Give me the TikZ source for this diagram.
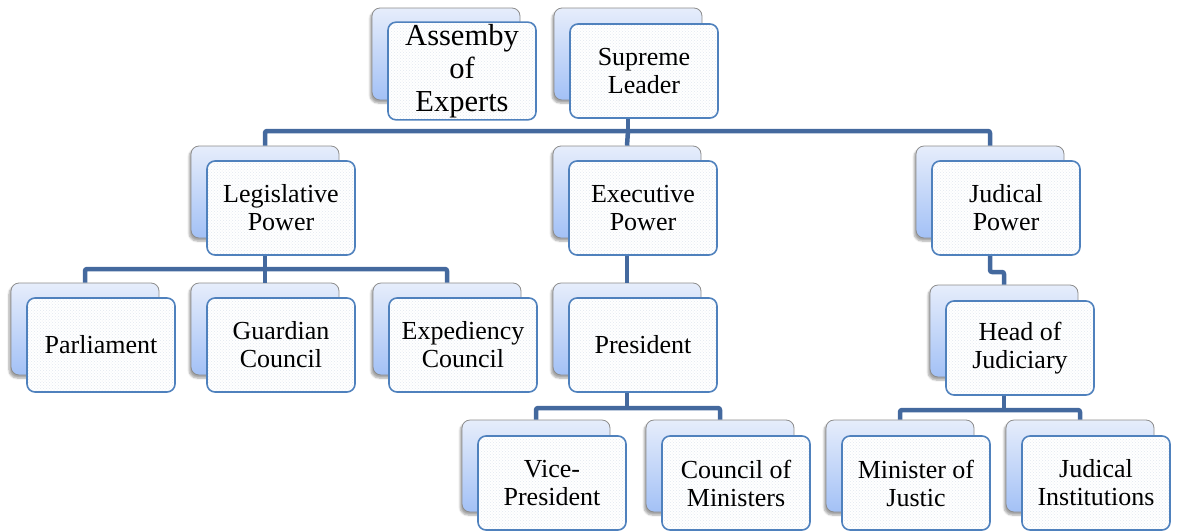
\documentclass[tikz,border=0pt]{standalone}
\usepackage{fontspec}
\setmainfont{Liberation Serif}
\usetikzlibrary{shadows.blur,patterns}

\definecolor{linkblue}{HTML}{44699E}
\definecolor{frontedge}{HTML}{4F81BD}
\definecolor{backtop}{HTML}{E6EDFB}
\definecolor{backbot}{HTML}{A3C1F6}
\definecolor{dotcol}{HTML}{E2E8F0}

\tikzset{
  backbox/.style={rectangle, rounded corners=8pt, minimum width=148pt, minimum height=92pt,
    draw=black!45, line width=0.8pt, top color=backtop, bottom color=backbot,
    blur shadow={shadow xshift=-2pt, shadow yshift=-3pt, shadow blur steps=6, shadow opacity=35}},
  frontbox/.style={rectangle, rounded corners=8pt, minimum width=148pt, minimum height=94pt,
    draw=frontedge, line width=1.6pt, preaction={fill=white},
    pattern=crosshatch dots, pattern color=dotcol,
    align=center, inner sep=2pt, font=\fontsize{26}{28}\selectfont},
  bigtext/.style={font=\fontsize{30.5}{33}\selectfont},
  conn/.style={draw=linkblue, line width=4.5pt, line cap=butt, line join=round, rounded corners=2pt},
}

\begin{document}
\begin{tikzpicture}[x=1pt,y=-1pt]
\useasboundingbox (0,0) rectangle (1179,531);

% back cards
\node[backbox] (ae-b) at (446,54)  {};
\node[backbox] (sl-b) at (628,54)  {};
\node[backbox] (lp-b) at (265,192) {};
\node[backbox] (ep-b) at (627,192) {};
\node[backbox] (jp-b) at (990,192) {};
\node[backbox] (pa-b) at (85,329)  {};
\node[backbox] (gc-b) at (265,329) {};
\node[backbox] (ec-b) at (447,329) {};
\node[backbox] (pr-b) at (627,329) {};
\node[backbox] (hj-b) at (1004,331) {};
\node[backbox] (vp-b) at (536,466) {};
\node[backbox] (cm-b) at (720,466) {};
\node[backbox] (mj-b) at (900,466) {};
\node[backbox] (ji-b) at (1080,466) {};

% hierarchy connectors
\coordinate (bus1) at (628,131);
\coordinate (bus2) at (265,269);
\coordinate (bus3) at (627,408);
\coordinate (bus4) at (1004,410);
\coordinate (jog)  at (990,272);

\draw[conn] (sl-b.center) -- (bus1);
\draw[conn] (lp-b.north) |- (bus1) -| (jp-b.north);
\draw[conn] (bus1) -- (ep-b.north);

\draw[conn] (lp-b.center) -- (bus2);
\draw[conn] (pa-b.north) |- (bus2) -| (ec-b.north);
\draw[conn] (bus2) -- (gc-b.north);

\draw[conn] (ep-b.center) -- (pr-b.north);

\draw[conn] (pr-b.center) -- (bus3);
\draw[conn] (vp-b.north) |- (bus3) -| (cm-b.north);

\draw[conn] (jp-b.center) -- (jog) -| (hj-b.north);

\draw[conn] (hj-b.center) -- (bus4);
\draw[conn] (mj-b.north) |- (bus4) -| (ji-b.north);

% front cards with labels
\node[frontbox,bigtext] (ae) at (462,71) {Assemby\\of\\Experts};
\node[frontbox] (sl) at (644,71)  {Supreme\\Leader};
\node[frontbox] (lp) at (281,208) {Legislative\\Power};
\node[frontbox] (ep) at (643,208) {Executive\\Power};
\node[frontbox] (jp) at (1006,208) {Judical\\Power};
\node[frontbox] (pa) at (101,345) {Parliament};
\node[frontbox] (gc) at (281,345) {Guardian\\Council};
\node[frontbox] (ec) at (463,345) {Expediency\\Council};
\node[frontbox] (pr) at (643,345) {President};
\node[frontbox] (hj) at (1020,348) {Head of\\Judiciary};
\node[frontbox] (vp) at (552,483) {Vice-\\President};
\node[frontbox] (cm) at (736,483) {Council of\\Ministers};
\node[frontbox] (mj) at (916,483) {Minister of\\Justic};
\node[frontbox] (ji) at (1096,483) {Judical\\Institutions};
\end{tikzpicture}
\end{document}
